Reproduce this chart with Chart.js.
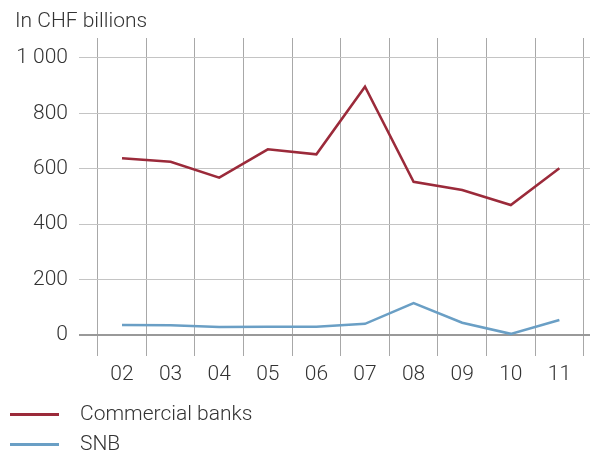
<!DOCTYPE html>
<html>
<head>
<meta charset="utf-8">
<script src="https://cdn.jsdelivr.net/npm/chart.js@4"></script>
<style>
  body { margin: 0; background: #fff; }
  #wrap { position: relative; width: 590px; height: 452px; font-family: Roboto, "Liberation Sans", sans-serif; font-weight: 300; color: #333; }
  #title { position: absolute; left: 15px; top: 8px; font-size: 21px; }
  .leg { position: absolute; left: 10px; font-size: 21px; }
  .leg span { display: inline-block; width: 49px; height: 3px; vertical-align: middle; margin-right: 21px; }
</style>
</head>
<body>
<div id="wrap">
  <canvas id="chart" width="590" height="452"></canvas>
  <div id="title">In CHF billions</div>
  <div class="leg" style="top:401px"><span style="background:#9b2a3a"></span>Commercial banks</div>
  <div class="leg" style="top:431px"><span style="background:#6a9fc5"></span>SNB</div>
</div>
<script>
const years = ['02', '03', '04', '05', '06', '07', '08', '09', '10', '11'];
const commercialBanks = [638, 625, 568, 670, 652, 896, 553, 523, 469, 602];
const snb = [36, 35, 29, 30, 30, 40, 115, 44, 4, 54];
const yTicks = [0, 200, 400, 600, 800, 1000];

const toPoints = arr => arr.map((v, i) => ({ x: i, y: v }));
const font = { family: 'Roboto, "Liberation Sans", sans-serif', size: 21, weight: 300 };

new Chart(document.getElementById('chart'), {
  type: 'line',
  data: {
    datasets: [
      {
        label: 'Commercial banks',
        data: toPoints(commercialBanks),
        borderColor: '#9b2a3a',
        borderWidth: 2.5,
        pointRadius: 0,
        tension: 0
      },
      {
        label: 'SNB',
        data: toPoints(snb),
        borderColor: '#6a9fc5',
        borderWidth: 2.5,
        pointRadius: 0,
        tension: 0
      }
    ]
  },
  options: {
    responsive: false,
    animation: false,
    layout: { padding: { top: 38, right: 0, left: 0, bottom: 0 } },
    plugins: { legend: { display: false }, tooltip: { enabled: false } },
    scales: {
      x: {
        type: 'linear',
        min: -0.885,
        max: 9.63,
        afterBuildTicks: scale => {
          scale.ticks = years.map((y, i) => ({ value: i - 0.5 })).concat([{ value: years.length - 0.5 }]);
        },
        afterFit: scale => { scale.height = 96; },
        border: { display: false },
        grid: { color: '#a8a8a8', lineWidth: 1, drawTicks: false },
        ticks: {
          font,
          color: '#333',
          padding: 6,
          maxRotation: 0,
          autoSkip: false,
          labelOffset: 24.3,
          callback: value => years[Math.round(value + 0.5)] || ''
        }
      },
      y: {
        min: -76,
        max: 1072,
        afterBuildTicks: scale => {
          scale.ticks = yTicks.map(v => ({ value: v }));
        },
        afterFit: scale => { scale.width = 79; },
        border: { display: false },
        grid: {
          drawTicks: false,
          color: ctx => ctx.tick && ctx.tick.value === 0 ? '#999' : '#c4c4c4',
          lineWidth: ctx => ctx.tick && ctx.tick.value === 0 ? 2 : 1
        },
        ticks: {
          font,
          color: '#333',
          padding: 11,
          callback: value => String(value).replace(/\B(?=(\d{3})+(?!\d))/g, ' ')
        }
      }
    }
  }
});
</script>
</body>
</html>
